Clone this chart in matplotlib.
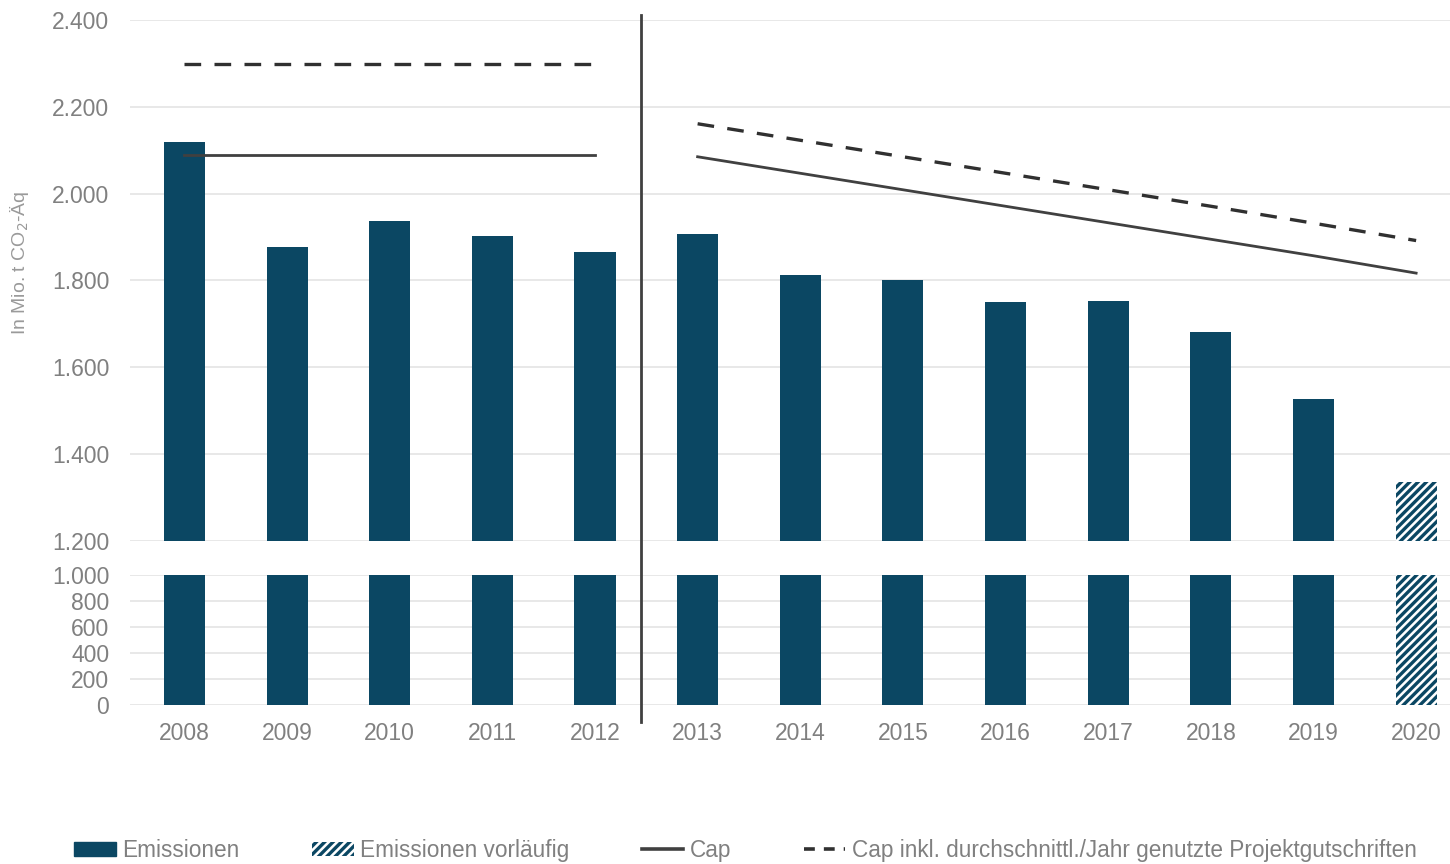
import matplotlib
matplotlib.use("Agg")
import matplotlib.pyplot as plt
import matplotlib.transforms as mtransforms
from matplotlib.lines import Line2D
from matplotlib.patches import Patch
from matplotlib.ticker import FuncFormatter

plt.rcParams['font.family'] = ['Liberation Sans', 'DejaVu Sans']
plt.rcParams['hatch.linewidth'] = 2.4

# Emissions in Mio. t CO2-Aeq (2020 provisional)
years = ["2008", "2009", "2010", "2011", "2012", "2013", "2014",
         "2015", "2016", "2017", "2018", "2019", "2020"]
emissions = [2118, 1878, 1937, 1903, 1866, 1906, 1812,
             1801, 1750, 1753, 1681, 1527, 1337]
provisional = [False] * 12 + [True]

# Caps, trading period 2 (2008-2012) and period 3 (2013-2020)
cap_p2 = [2088, 2088, 2088, 2088, 2088]
cap_credits_p2 = [2298, 2298, 2298, 2298, 2298]
cap_p3 = [2085, 2047, 2009, 1971, 1933, 1895, 1857, 1817]
cap_credits_p3 = [2161, 2123, 2085, 2047, 2009, 1971, 1932, 1892]

bar_color = "#0b4763"
line_color = "#404040"
text_color = "#808080"
grid_color = "#e4e4e4"

W, H = 1450, 864
fig = plt.figure(figsize=(W / 100, H / 100), dpi=100)
left = 130 / W
width = 1 - left
ax_top = fig.add_axes([left, 1 - 541 / H, width, 521 / H])
ax_bot = fig.add_axes([left, 1 - 705 / H, width, 130 / H])

x = list(range(len(years)))
fmt = FuncFormatter(lambda v, p: f"{v:,.0f}".replace(",", "."))

for ax in (ax_top, ax_bot):
    for xi, val, prov in zip(x, emissions, provisional):
        if prov:
            ax.bar(xi, val, width=0.4, color="white", edgecolor=bar_color,
                   hatch="////", linewidth=0, zorder=2)
        else:
            ax.bar(xi, val, width=0.4, color=bar_color, zorder=2)
    ax.set_xlim(-0.53, 12.33)
    for s in ax.spines.values():
        s.set_visible(False)
    ax.yaxis.grid(True, color=grid_color, linewidth=1.2)
    ax.set_axisbelow(True)
    ax.yaxis.set_major_formatter(fmt)
    ax.tick_params(axis="both", length=0, labelsize=16.5, labelcolor=text_color)
    ax.tick_params(axis="y", pad=15)

ax_top.set_ylim(1200, 2400)
ax_top.set_yticks(range(1200, 2401, 200))
ax_top.set_xticks([])

ax_bot.set_ylim(0, 1000)
ax_bot.set_yticks(range(0, 1001, 200))
ax_bot.set_xticks(x)
ax_bot.set_xticklabels(years)
ax_bot.tick_params(axis="x", pad=12)

# cap lines
lw = 2.0
ax_top.plot(x[:5], cap_p2, color=line_color, lw=lw, zorder=3)
ax_top.plot(x[:5], cap_credits_p2, color="#303030", lw=lw + 0.4,
            dashes=(5, 4), zorder=3)
ax_top.plot(x[5:], cap_p3, color=line_color, lw=lw, zorder=3)
ax_top.plot(x[5:], cap_credits_p3, color="#303030", lw=lw + 0.4,
            dashes=(5, 4), zorder=3)

# separator between the trading periods
trans = mtransforms.blended_transform_factory(ax_top.transData, fig.transFigure)
fig.add_artist(Line2D([4.45, 4.45], [1 - 15 / H, 1 - 722 / H], transform=trans,
                      color=line_color, lw=2.0))

fig.text(20 / W, 1 - 263 / H, "In Mio. t CO$_2$-Äq", rotation=90,
         ha="center", va="center", fontsize=14, color="#9a9a9a")

handles = [
    Patch(facecolor=bar_color, edgecolor=bar_color),
    Patch(facecolor="white", edgecolor=bar_color, hatch="////", linewidth=0),
    Line2D([], [], color=line_color, lw=lw + 0.6),
    Line2D([], [], color="#303030", lw=lw + 0.6, dashes=(3, 2.5)),
]
labels = ["Emissionen", "Emissionen vorläufig", "Cap",
          "Cap inkl. durchschnittl./Jahr genutzte Projektgutschriften"]
fig.legend(handles, labels, loc="center", bbox_to_anchor=(0.514, 0.016),
           ncol=4, frameon=False, fontsize=16.3, labelcolor=text_color,
           handlelength=1.85, handleheight=0.6, handletextpad=0.27,
           columnspacing=3.2)

fig.savefig("out.png", dpi=100, facecolor="white")
